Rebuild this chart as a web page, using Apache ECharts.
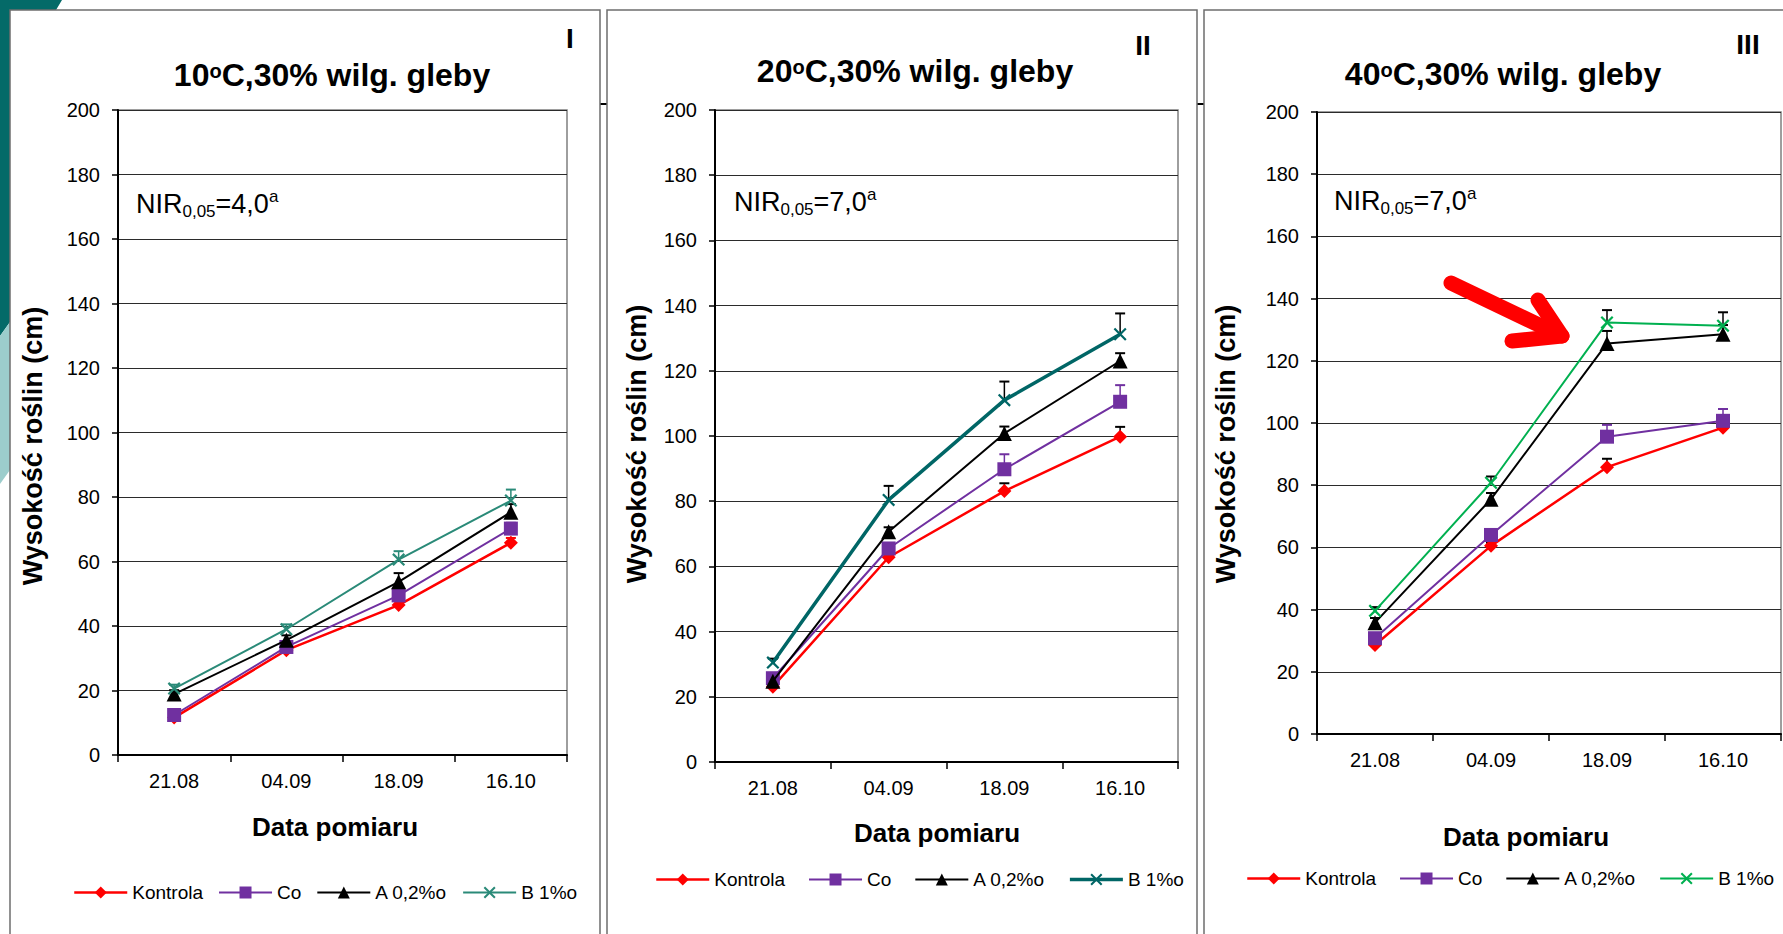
<!DOCTYPE html>
<html><head><meta charset="utf-8">
<script src="https://cdn.jsdelivr.net/npm/echarts@6/dist/echarts.min.js"></script>
<style>html,body{margin:0;padding:0;background:#fff;overflow:hidden}#c{width:1783px;height:934px;}</style>
</head><body><div id="c"></div>
<script>
// ---------- DATA ----------
const categories = ['21.08', '04.09', '18.09', '16.10'];
const seriesNames = ['Kontrola', 'Co', 'A 0,2%o', 'B 1%o'];
const yTicks = [0, 20, 40, 60, 80, 100, 120, 140, 160, 180, 200];

// Panel I : 10oC, 30% soil moisture
const p1Kontrola = [11.6, 32.5, 46.5, 65.8];
const p1Co       = [12.4, 33.5, 49.5, 70.2];
const p1A        = [18.9, 35.6, 53.7, 75.3];
const p1B        = [20.6, 39.0, 60.6, 78.9];
const p1ErrKontrola = [0.8, 1.0, 1.2, 1.5];
const p1ErrCo       = [1.0, 1.0, 1.5, 1.8];
const p1ErrA        = [1.2, 1.5, 2.7, 2.5];
const p1ErrB        = [1.2, 1.5, 2.6, 3.4];

// Panel II : 20oC, 30% soil moisture
const p2Kontrola = [23.1, 62.8, 83.1, 99.8];
const p2Co       = [25.7, 65.5, 89.8, 110.5];
const p2A        = [24.8, 70.6, 100.8, 123.0];
const p2B        = [30.5, 80.4, 111.0, 131.2];
const p2ErrKontrola = [0.8, 1.0, 2.4, 3.0];
const p2ErrCo       = [1.0, 1.5, 4.6, 5.1];
const p2ErrA        = [1.0, 1.4, 2.1, 2.4];
const p2ErrB        = [1.2, 4.3, 5.7, 6.4];

// Panel III : 40oC, 30% soil moisture
const p3Kontrola = [28.6, 60.5, 85.8, 98.5];
const p3Co       = [30.8, 64.0, 95.6, 100.7];
const p3A        = [35.8, 75.5, 125.6, 128.5];
const p3B        = [39.6, 80.8, 132.3, 131.3];
const p3ErrKontrola = [1.0, 1.0, 2.7, 1.5];
const p3ErrCo       = [1.0, 1.5, 3.8, 3.8];
const p3ErrA        = [1.5, 2.0, 4.0, 3.0];
const p3ErrB        = [1.2, 2.0, 4.0, 4.3];

const panelTitles = ['10', '20', '40'];
const panelNumerals = ['I', 'II', 'III'];
const nirValues = ['4,0', '7,0', '7,0'];
const yName = 'Wysokość roślin (cm)';
const xName = 'Data pomiaru';

// ---------- STYLE / LAYOUT ----------
const F = "'Liberation Sans', Arial, Helvetica, sans-serif";
const symbols = ['path://M5,0L10,5L5,10L0,5Z', 'rect', 'triangle',
  'path://M0,1.2L1.2,0L5,3.8L8.8,0L10,1.2L6.2,5L10,8.8L8.8,10L5,6.2L1.2,10L0,8.8L3.8,5Z'];
const symSizes = [14, 14, 15, 13];

const panels = [
  { vals: [p1Kontrola, p1Co, p1A, p1B], errs: [p1ErrKontrola, p1ErrCo, p1ErrA, p1ErrB],
    colors: ['#FF0000', '#7030A0', '#000000', '#2A8A78'], widths: [2.5, 2, 2, 2],
    errColors: ['#FF0000', '#7030A0', '#000000', '#2A8A78'],
    grid: [118, 110, 449, 645], legend: [73, 883, 15],
    frame: [10, 10, 590, 940], title: [332, 75], num: [570, 38], nir: [136, 204],
    yName: [33, 446], xName: [335, 827] },
  { vals: [p2Kontrola, p2Co, p2A, p2B], errs: [p2ErrKontrola, p2ErrCo, p2ErrA, p2ErrB],
    colors: ['#FF0000', '#7030A0', '#000000', '#006666'], widths: [2.5, 2, 2, 3.5],
    errColors: ['#000000', '#7030A0', '#000000', '#000000'],
    grid: [715, 110, 463, 652], legend: [655, 870, 23],
    frame: [607, 10, 590, 940], title: [915, 71], num: [1143, 45], nir: [734, 202],
    yName: [637, 444], xName: [937, 833] },
  { vals: [p3Kontrola, p3Co, p3A, p3B], errs: [p3ErrKontrola, p3ErrCo, p3ErrA, p3ErrB],
    colors: ['#FF0000', '#7030A0', '#000000', '#00B050'], widths: [2.5, 2, 2, 2],
    errColors: ['#000000', '#7030A0', '#000000', '#000000'],
    grid: [1317, 112, 464, 622], legend: [1246, 869, 23],
    frame: [1204, 10, 620, 940], title: [1503, 74], num: [1748, 44], nir: [1334, 201],
    yName: [1226, 444], xName: [1526, 837] }
];

function makeErr(color) {
  return function (params, api) {
    const x = api.value(0), v = api.value(1), e = api.value(2);
    const a = api.coord([x, v]);
    const b = api.coord([x, v + e]);
    return {
      type: 'group', children: [
        { type: 'line', shape: { x1: a[0], y1: a[1], x2: b[0], y2: b[1] }, style: { stroke: color, lineWidth: 1.5 } },
        { type: 'line', shape: { x1: b[0] - 5, y1: b[1], x2: b[0] + 5, y2: b[1] }, style: { stroke: color, lineWidth: 2 } }
      ]
    };
  };
}

const series = [];
panels.forEach((p, i) => {
  seriesNames.forEach((n, k) => {
    series.push({
      type: 'custom', xAxisIndex: i, yAxisIndex: i, silent: true, z: 2,
      data: categories.map((c, j) => [j, p.vals[k][j], p.errs[k][j]]),
      encode: { x: 0, y: 1 }, renderItem: makeErr(p.errColors[k])
    });
  });
  seriesNames.forEach((n, k) => {
    series.push({
      type: 'line', name: n, xAxisIndex: i, yAxisIndex: i, data: p.vals[k],
      symbol: symbols[k], symbolSize: symSizes[k], showAllSymbol: true, z: 3 + k,
      lineStyle: { color: p.colors[k], width: p.widths[k] },
      itemStyle: { color: p.colors[k], borderWidth: 0 },
      emphasis: { disabled: true }
    });
  });
});

const graphic = [];
// background decorations
graphic.push({ id: 'dk', type: 'polygon', z: -20, shape: { points: [[0, 0], [62, 0], [56, 10], [40, 40], [10, 322], [0, 336]] }, style: { fill: '#046A68' } });
graphic.push({ id: 'lt', type: 'polygon', z: -20, shape: { points: [[0, 336], [10, 322], [10, 470], [0, 484]] }, style: { fill: '#9CCDCC' } });
graphic.push({ id: 'ul', type: 'line', z: -20, shape: { x1: 590, y1: 104, x2: 1783, y2: 104 }, style: { stroke: '#000', lineWidth: 2 } });

panels.forEach((p, i) => {
  graphic.push({ id: 'fr' + i, type: 'rect', z: -10, shape: { x: p.frame[0], y: p.frame[1], width: p.frame[2], height: p.frame[3] },
    style: { fill: '#fff', stroke: '#6E6E6E', lineWidth: 1.5 } });
  graphic.push({ id: 'ti' + i, type: 'text', z: 10, x: p.title[0], y: p.title[1],
    style: { text: '{m|' + panelTitles[i] + '}{s|o}{m|C,30% wilg. gleby}', textAlign: 'center', textVerticalAlign: 'middle', align: 'center', verticalAlign: 'middle',
      rich: { m: { fontSize: 32, fontWeight: 'bold', fontFamily: F, lineHeight: 28, fill: '#000' },
              s: { fontSize: 20, fontWeight: 'bold', fontFamily: F, verticalAlign: 'top', fill: '#000' } } } });
  graphic.push({ id: 'nu' + i, type: 'text', z: 10, x: p.num[0], y: p.num[1],
    style: { text: panelNumerals[i], font: 'bold 28px ' + F, fill: '#000', textAlign: 'center', textVerticalAlign: 'middle', align: 'center', verticalAlign: 'middle' } });
  graphic.push({ id: 'ni' + i, type: 'text', z: 10, x: p.nir[0], y: p.nir[1],
    style: { text: '{m|NIR}{b|0,05}{m|=' + nirValues[i] + '}{t|a}', textAlign: 'left', textVerticalAlign: 'middle', align: 'left', verticalAlign: 'middle',
      rich: { m: { fontSize: 27, fontFamily: F, lineHeight: 32, fill: '#000' },
              b: { fontSize: 17, fontFamily: F, verticalAlign: 'bottom', fill: '#000' },
              t: { fontSize: 17, fontFamily: F, verticalAlign: 'top', fill: '#000' } } } });
  graphic.push({ id: 'yn' + i, type: 'text', z: 10, x: p.yName[0], y: p.yName[1], rotation: Math.PI / 2,
    style: { text: yName, font: 'bold 27px ' + F, fill: '#000', textAlign: 'center', textVerticalAlign: 'middle', align: 'center', verticalAlign: 'middle' } });
  graphic.push({ id: 'xn' + i, type: 'text', z: 10, x: p.xName[0], y: p.xName[1],
    style: { text: xName, font: 'bold 26px ' + F, fill: '#000', textAlign: 'center', textVerticalAlign: 'middle', align: 'center', verticalAlign: 'middle' } });
});

const option = {
  animation: false,
  backgroundColor: '#fff',
  textStyle: { fontFamily: F },
  grid: panels.map(p => ({ left: p.grid[0], top: p.grid[1], width: p.grid[2], height: p.grid[3], show: true,
    borderColor: '#7f7f7f', borderWidth: 1.5, backgroundColor: 'transparent', containLabel: false, outerBoundsMode: 'none' })),
  xAxis: panels.map((p, i) => ({ type: 'category', gridIndex: i, data: categories, boundaryGap: true,
    axisLine: { show: true, lineStyle: { color: '#000', width: 2 } },
    axisTick: { show: true, length: 7, alignWithLabel: false, lineStyle: { color: '#000', width: 1.5 } },
    axisLabel: { fontSize: 20, color: '#000', margin: 16, fontFamily: F },
    splitLine: { show: false } })),
  yAxis: panels.map((p, i) => ({ type: 'value', gridIndex: i, min: yTicks[0], max: yTicks[yTicks.length - 1], interval: yTicks[1] - yTicks[0],
    axisLine: { show: true, lineStyle: { color: '#000', width: 2 } },
    axisTick: { show: true, length: 6, lineStyle: { color: '#000', width: 1.5 } },
    axisLabel: { fontSize: 20, color: '#000', margin: 18, fontFamily: F },
    splitLine: { show: true, lineStyle: { color: '#2b2b2b', width: 1.2 } } })),
  legend: panels.map(p => ({ left: p.legend[0], top: p.legend[1], itemGap: p.legend[2], itemWidth: 53, itemHeight: 15,
    padding: 0, selectedMode: false, textStyle: { fontSize: 19, color: '#000', fontFamily: F },
    data: seriesNames.map((n, k) => ({ name: n, itemStyle: { color: p.colors[k], borderWidth: 0 }, lineStyle: { color: p.colors[k], width: p.widths[k] } })) })),
  series: series,
  graphic: graphic
};

const chart = echarts.init(document.getElementById('c'), null, { renderer: 'svg', width: 1783, height: 934 });
chart.setOption(option);

// red arrow annotation, anchored to the B 1%o point on 18.09 in panel III
const anchor = chart.convertToPixel({ xAxisIndex: 2, yAxisIndex: 2 }, [2, p3B[2]]);
const tip = [anchor[0] - 45, anchor[1] + 13.5];
chart.setOption({ graphic: [
  { id: 'arS', type: 'polyline', z: 20, shape: { points: [[tip[0] - 111, tip[1] - 53], tip] },
    style: { stroke: '#FF0000', lineWidth: 15, lineCap: 'round', lineJoin: 'round', fill: null } },
  { id: 'arH', type: 'polyline', z: 20, shape: { points: [[tip[0] - 24, tip[1] - 36], tip, [tip[0] - 50, tip[1] + 5]] },
    style: { stroke: '#FF0000', lineWidth: 15, lineCap: 'round', lineJoin: 'round', fill: null } }
] });
</script>
</body></html>
